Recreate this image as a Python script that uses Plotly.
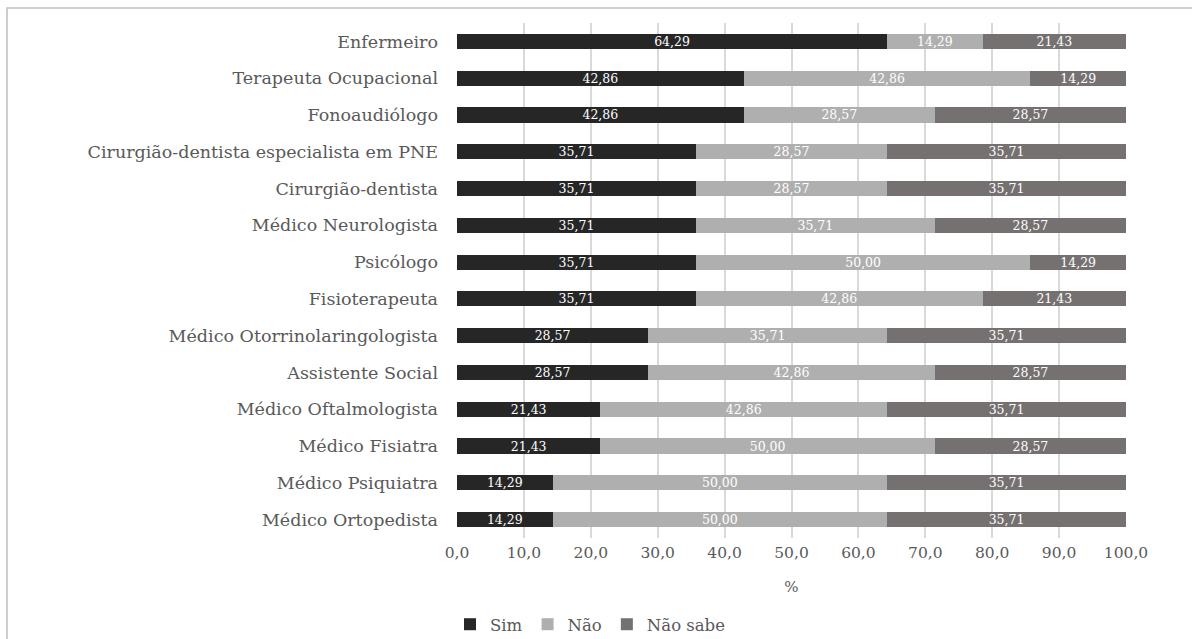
import plotly.graph_objects as go

categories = [
    "Enfermeiro", "Terapeuta Ocupacional", "Fonoaudiólogo",
    "Cirurgião-dentista especialista em PNE", "Cirurgião-dentista",
    "Médico Neurologista", "Psicólogo", "Fisioterapeuta",
    "Médico Otorrinolaringologista", "Assistente Social",
    "Médico Oftalmologista", "Médico Fisiatra", "Médico Psiquiatra",
    "Médico Ortopedista",
]
sim = [64.29, 42.86, 42.86, 35.71, 35.71, 35.71, 35.71, 35.71, 28.57, 28.57, 21.43, 21.43, 14.29, 14.29]
nao = [14.29, 42.86, 28.57, 28.57, 28.57, 35.71, 50.00, 42.86, 35.71, 42.86, 42.86, 50.00, 50.00, 50.00]
nao_sabe = [21.43, 14.29, 28.57, 35.71, 35.71, 28.57, 14.29, 21.43, 35.71, 28.57, 35.71, 28.57, 35.71, 35.71]
tick_vals = [0, 10, 20, 30, 40, 50, 60, 70, 80, 90, 100]

series = [("Sim", sim, "#262626"), ("Não", nao, "#afafaf"), ("Não sabe", nao_sabe, "#767171")]

FONT = "DejaVu Serif"
fig = go.Figure()
for name, vals, col in series:
    fig.add_trace(go.Bar(
        name=name, y=categories, x=vals, orientation="h",
        marker=dict(color=col, line=dict(width=0)),
        text=[f"{v:.2f}".replace(".", ",") for v in vals],
        textposition="inside", insidetextanchor="middle", constraintext="none",
        textfont=dict(color="white", size=12.5, family=FONT),
        hoverinfo="skip",
    ))

W, H = 1192, 639
l, r, t, b = 457, 66, 23, 101
pw, ph = W - l - r, H - t - b

fig.update_layout(
    width=W, height=H, barmode="stack", bargap=0.59,
    separators=",.",
    margin=dict(l=l, r=r, t=t, b=b, autoexpand=False),
    paper_bgcolor="white", plot_bgcolor="white",
    font=dict(family=FONT, color="#595959", size=15),
    xaxis=dict(range=[0, 100], tickvals=tick_vals, tickformat=".1f",
               showgrid=True, gridcolor="#d9d9d9", gridwidth=1.5,
               zeroline=False, showline=False, ticks="",
               ticklabelstandoff=3,
               tickfont=dict(size=15.5, color="#595959", family=FONT),
               title=dict(text="%", font=dict(size=15, color="#595959", family=FONT), standoff=20)),
    yaxis=dict(autorange="reversed", showgrid=False, ticks="", showline=False,
               ticklabelstandoff=18,
               tickfont=dict(size=17.5, color="#595959", family=FONT)),
    legend=dict(orientation="h", x=(590 - l) / pw, xanchor="center",
                y=(t + ph - 607) / ph, yanchor="top",
                font=dict(size=16.5, color="#595959", family=FONT), traceorder="normal"),
    shapes=[dict(type="rect", xref="paper", yref="paper",
                 x0=(7 - l) / pw, x1=(1250 - l) / pw,
                 y0=(t + ph - 700) / ph, y1=(t + ph - 8) / ph,
                 line=dict(color="#bfbfbf", width=1.5), layer="below")],
)
fig.write_html("out.html")
